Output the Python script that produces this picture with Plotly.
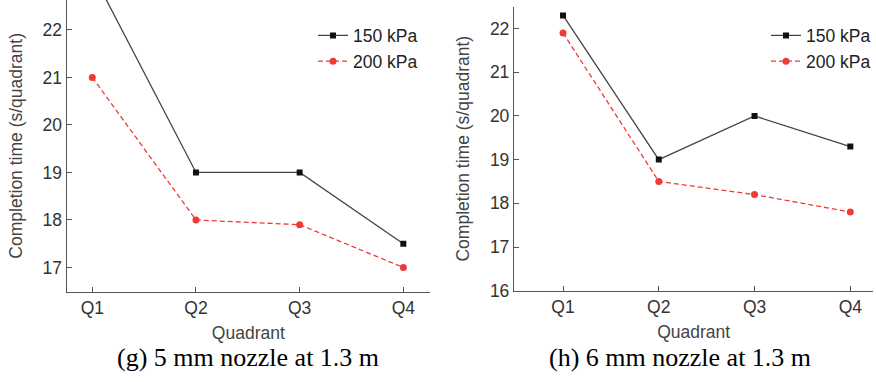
import plotly.graph_objects as go

quadrants = ["Q1", "Q2", "Q3", "Q4"]
g_150 = [23.2, 19.0, 19.0, 17.5]
g_200 = [21.0, 18.0, 17.9, 17.0]
h_150 = [22.3, 19.0, 20.0, 19.3]
h_200 = [21.9, 18.5, 18.2, 17.8]
series_names = ["150 kPa", "200 kPa"]
captions = ["(g) 5 mm nozzle at 1.3 m", "(h) 6 mm nozzle at 1.3 m"]
y_title = "Completion time (s/quadrant)"
x_title = "Quadrant"

W, H = 876, 382
BLACK_LINE = "#444444"
RED = "#f03a3a"
AX = "#555555"
FONT = "Liberation Sans, Arial, sans-serif"
FS = 17.5

fig = go.Figure()
xi = list(range(4))

def add_pair(v150, v200, xa, ya, leg):
    fig.add_trace(go.Scatter(x=xi, y=v150, name=series_names[0], mode="lines+markers",
                             line=dict(color=BLACK_LINE, width=1.3),
                             marker=dict(symbol="square", size=6, color="#111111"),
                             xaxis=xa, yaxis=ya, legend=leg, cliponaxis=True))
    fig.add_trace(go.Scatter(x=xi, y=v200, name=series_names[1], mode="lines+markers",
                             line=dict(color=RED, width=1.3, dash="5px,3px"),
                             marker=dict(symbol="circle", size=7, color=RED),
                             xaxis=xa, yaxis=ya, legend=leg, cliponaxis=True))

add_pair(g_150, g_200, "x", "y", "legend")
add_pair(h_150, h_200, "x2", "y2", "legend2")

def xaxis(domain, rng, anchor):
    return dict(domain=domain, range=rng, anchor=anchor, tickmode="array", tickvals=xi,
                ticktext=quadrants, showline=True, linecolor=AX, linewidth=1.3,
                ticks="inside", ticklen=5, tickcolor=AX, showgrid=False, zeroline=False,
                automargin=False,
                tickfont=dict(family=FONT, size=FS, color="#333333"),
                title=dict(text=x_title, font=dict(family=FONT, size=FS, color="#444444"), standoff=9))

def yaxis(domain, rng, anchor, tickvals):
    return dict(domain=domain, range=rng, anchor=anchor, tickvals=tickvals,
                showline=True, linecolor=AX, linewidth=1.3,
                ticks="inside", ticklen=5, tickcolor=AX, showgrid=False, zeroline=False,
                automargin=False,
                tickfont=dict(family=FONT, size=FS, color="#333333"),
                title=dict(text=y_title, font=dict(family=FONT, size=FS, color="#444444"), standoff=15))

fig.update_layout(
    width=W, height=H, margin=dict(l=0, r=0, t=0, b=0, autoexpand=False),
    paper_bgcolor="white", plot_bgcolor="white",
    xaxis=xaxis([66.7 / W, 430 / W], [-0.247, 3.257], "y"),
    yaxis=yaxis([1 - 291.7 / H, 1.0], [16.49, 22.63], "x", [17, 18, 19, 20, 21, 22]),
    xaxis2=xaxis([514 / W, 873.3 / W], [-0.512, 3.24], "y2"),
    yaxis2=yaxis([1 - 290.7 / H, 1 - 6.7 / H], [16, 22.5], "x2", [16, 17, 18, 19, 20, 21, 22]),
    legend=dict(x=313 / W, y=1 - 17.5 / H, xanchor="left", yanchor="top", bgcolor="rgba(0,0,0,0)",
                font=dict(family=FONT, size=FS, color="#222222"), tracegroupgap=0),
    legend2=dict(x=766 / W, y=1 - 17.5 / H, xanchor="left", yanchor="top", bgcolor="rgba(0,0,0,0)",
                 font=dict(family=FONT, size=FS, color="#222222"), tracegroupgap=0),
    annotations=[
        dict(text=captions[0], x=248 / W, y=1 - 357.5 / H, xref="paper", yref="paper",
             showarrow=False, xanchor="center", yanchor="middle",
             font=dict(family="Liberation Serif, Times New Roman, serif", size=26, color="black")),
        dict(text=captions[1], x=680 / W, y=1 - 357.5 / H, xref="paper", yref="paper",
             showarrow=False, xanchor="center", yanchor="middle",
             font=dict(family="Liberation Serif, Times New Roman, serif", size=26, color="black")),
    ],
)

fig.write_html("out.html", config={"displayModeBar": False},
               post_script="document.body.style.margin='0px';")
